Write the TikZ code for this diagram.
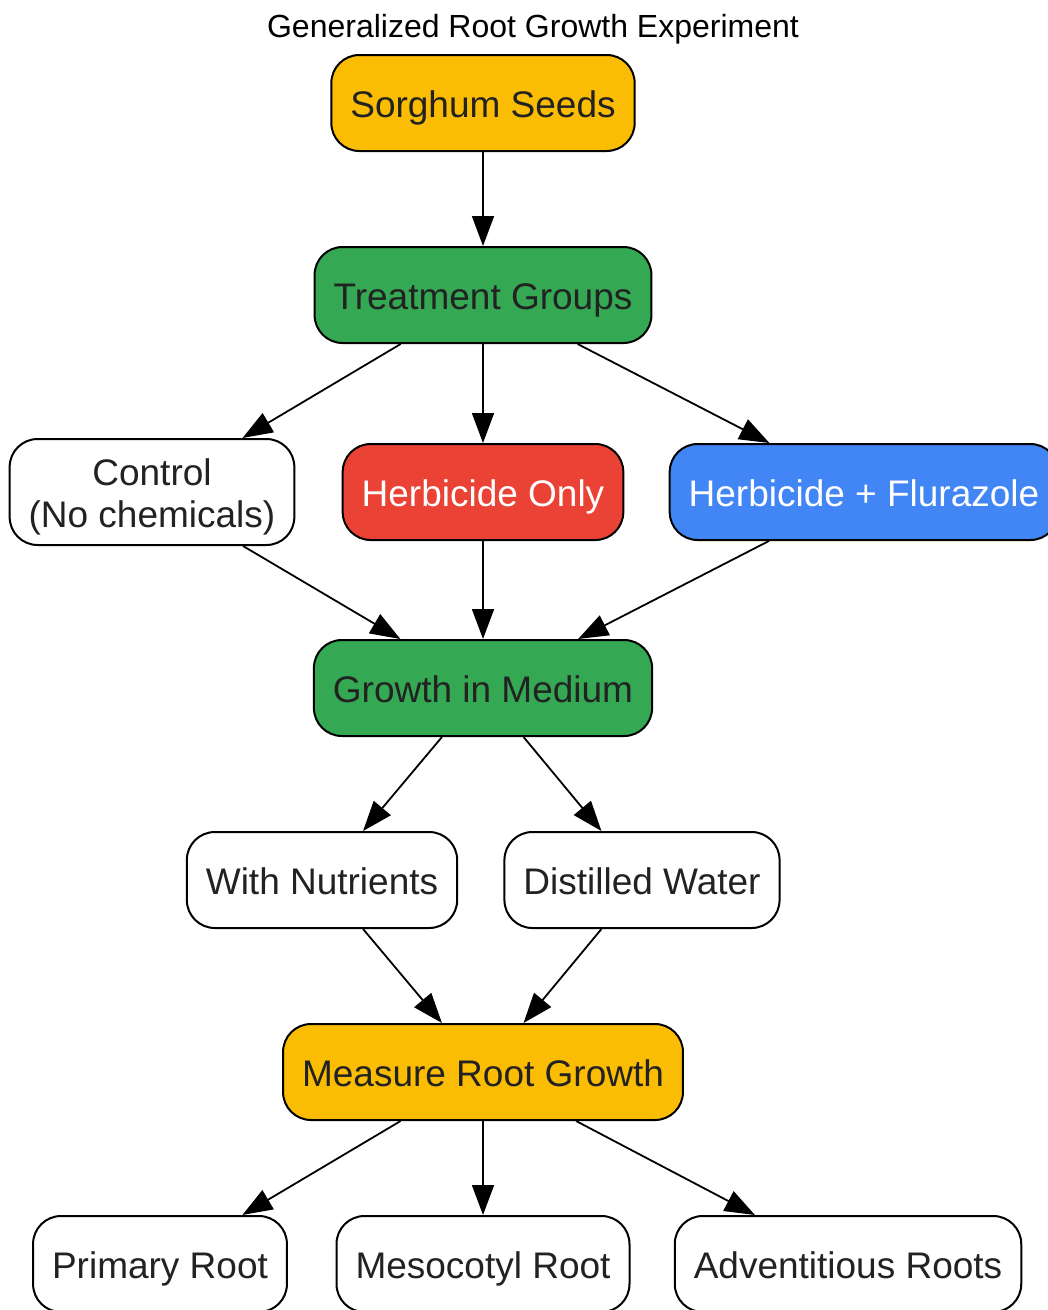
\documentclass[tikz,border=0pt]{standalone}
\usepackage{fontspec}
\setmainfont{Liberation Sans}
\usetikzlibrary{arrows.meta}
\definecolor{seedyellow}{HTML}{FBBC04}
\definecolor{stepgreen}{HTML}{34A853}
\definecolor{herbred}{HTML}{EA4335}
\definecolor{flublue}{HTML}{4285F4}
\definecolor{textgray}{HTML}{222222}

\begin{document}
\begin{tikzpicture}[x=1pt,y=-1pt,
    box/.style={draw=black,line width=2pt,rounded corners=28pt,minimum height=96pt,inner xsep=19pt,inner ysep=8pt,text height=36pt,text depth=8pt,font=\fontsize{37}{42}\selectfont,text=textgray,align=center},
    arr/.style={line width=1.8pt,-{Triangle[length=30pt,width=22pt]}}]
    \useasboundingbox (0,0) rectangle (1048,1310);
    \clip (0,0) rectangle (1048,1310);
    \node[font=\fontsize{32}{38}\selectfont] (title) at (533,29) {Generalized Root Growth Experiment};
    % top of the chain
    \node[box,fill=seedyellow] (seeds) at (483,103) {Sorghum Seeds};
    \node[box,fill=stepgreen] (groups) at (483,295) {Treatment Groups};
    % the three treatments
    \node[box,fill=white,minimum height=106pt,text height=78pt] (control) at (152,492) {Control\\(No chemicals)};
    \node[box,fill=herbred,text=white] (herb) at (483,492) {Herbicide Only};
    \node[box,fill=flublue,text=white] (fluraz) at (864,492) {Herbicide + Flurazole};
    \node[box,fill=stepgreen] (medium) at (483,688) {Growth in Medium};
    \node[box,fill=white] (nutr) at (322,880) {With Nutrients};
    \node[box,fill=white] (water) at (642,880) {Distilled Water};
    \node[box,fill=seedyellow] (measure) at (483,1072) {Measure Root Growth};
    % root types
    \node[box,fill=white] (primary) at (160,1264) {Primary Root};
    \node[box,fill=white] (meso) at (483,1264) {Mesocotyl Root};
    \node[box,fill=white] (advent) at (848,1264) {Adventitious Roots};
    \draw[arr] (seeds) -- (groups);
    \draw[arr] (groups) -- (control);
    \draw[arr] (groups) -- (herb);
    \draw[arr] (groups) -- (fluraz);
    \draw[arr] (control) -- (medium);
    \draw[arr] (herb) -- (medium);
    \draw[arr] (fluraz) -- (medium);
    \draw[arr] (medium) -- (nutr);
    \draw[arr] (medium) -- (water);
    \draw[arr] (nutr) -- (measure);
    \draw[arr] (water) -- (measure);
    \draw[arr] (measure) -- (primary);
    \draw[arr] (measure) -- (meso);
    \draw[arr] (measure) -- (advent);
\end{tikzpicture}
\end{document}
